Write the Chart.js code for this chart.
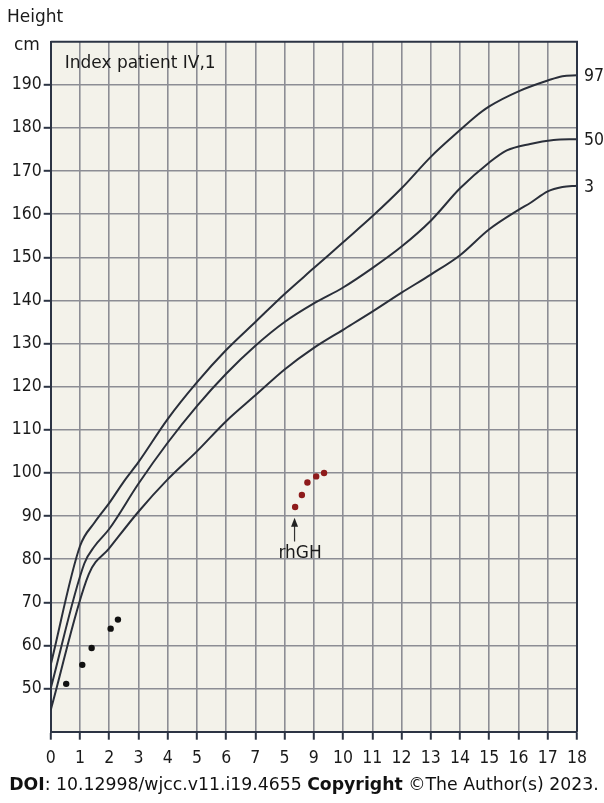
<!DOCTYPE html>
<html>
<head>
<meta charset="utf-8">
<script src="https://cdn.jsdelivr.net/npm/chart.js@4.4.1/dist/chart.umd.min.js"></script>
<style>
  html, body { margin: 0; padding: 0; background: #ffffff; }
  #wrap { position: relative; width: 604px; height: 803px; }
  #footer { position: absolute; left: 2px; width: 604px; top: 774px; text-align: center;
            font-family: 'DejaVu Sans', sans-serif; font-size: 17.3px; color: #111; white-space: nowrap; }
</style>
</head>
<body>
<div id="wrap">
  <canvas id="c"></canvas>
  <div id="footer"><b>DOI</b>: 10.12998/wjcc.v11.i19.4655 <b>Copyright</b> ©The Author(s) 2023.</div>
</div>
<script>
// ---- data ----
const xTickLabels = ['0','1','2','3','4','5','6','7','5','9','10','11','12','13','14','15','16','17','18'];
const yTickValues = [50,60,70,80,90,100,110,120,130,140,150,160,170,180,190];

const ages97 = [0, 1, 1.5, 2, 2.5, 3, 4, 5, 6, 7, 8, 9, 10, 11, 12, 13, 14, 14.5, 15, 16, 17, 17.5, 18];
const p97    = [55.5, 83, 88.5, 93, 98, 102.5, 112.5, 121, 128.5, 135, 141.5, 147.5, 153.5, 159.5, 166, 173.3, 179.5, 182.5, 185, 188.5, 191, 192, 192.2];

const ages50 = [0, 1.15, 1.5, 2, 3, 4, 5, 6, 7, 8, 9, 10, 11, 12, 13, 14, 15, 15.6, 16.4, 17.2, 18];
const p50    = [50, 79, 83, 87, 97.5, 107, 115.5, 123, 129.5, 135, 139.3, 143, 147.5, 152.5, 158.5, 166, 172, 174.8, 176.3, 177.2, 177.4];

const ages3  = [0, 1.3, 2, 3, 4, 5, 6, 7, 8, 9, 10, 11, 12, 13, 14, 15, 16, 16.4, 17, 17.5, 18];
const p3     = [45, 76.5, 82.5, 91, 98.5, 105, 112, 118, 124, 129, 133.2, 137.4, 141.8, 146, 150.5, 156.5, 161, 162.6, 165.3, 166.3, 166.6];

const curveLabels = ['97', '50', '3'];

const patientAges    = [0.53, 1.08, 1.40, 2.05, 2.30];
const patientHeights = [51.1, 55.5, 59.4, 63.9, 66.0];

const rhghAges    = [8.36, 8.59, 8.78, 9.08, 9.35];
const rhghHeights = [92.1, 94.9, 97.8, 99.2, 100.0];

const titleText = 'Index patient IV,1';
const arrowLabel = 'rhGH';
const arrowAge = 8.34, arrowTip = 89.6, arrowBase = 84.1, arrowTextAge = 8.53, arrowTextH = 81.2;

// ---- helpers ----
const pts = (xs, ys) => xs.map((x, i) => ({ x: x, y: ys[i] }));
const FONT = "'DejaVu Sans Condensed', 'DejaVu Sans', sans-serif";
const TFONT = "'DejaVu Sans', sans-serif";
const DARK = '#2c3444';
const GRID = '#8c8d94';
const LINE = '#2a2f3a';

const curveDs = (data) => ({
  type: 'line', data: data, borderColor: LINE, borderWidth: 2, pointRadius: 0,
  fill: false, cubicInterpolationMode: 'monotone', showLine: true
});

const decor = {
  id: 'decor',
  beforeDraw(chart) {
    const { ctx, chartArea: a } = chart;
    ctx.save();
    ctx.fillStyle = '#f3f2ea';
    ctx.fillRect(a.left, a.top, a.right - a.left, a.bottom - a.top);
    ctx.restore();
  },
  afterDraw(chart) {
    const { ctx, chartArea: a, scales: { x, y } } = chart;
    ctx.save();
    // frame top & right
    ctx.strokeStyle = DARK; ctx.lineWidth = 2;
    ctx.beginPath();
    ctx.moveTo(a.left, a.top); ctx.lineTo(a.right, a.top); ctx.lineTo(a.right, a.bottom);
    ctx.stroke();
    ctx.fillStyle = '#1a1a1a';
    ctx.font = '17px ' + TFONT;
    ctx.textBaseline = 'middle';
    // axis titles
    ctx.textAlign = 'left';
    ctx.fillText('Height', 7, 18);
    ctx.fillText('cm', 14, 46);
    // panel title
    ctx.fillText(titleText, a.left + 14, a.top + 22);
    // percentile labels
    ctx.font = '17.5px ' + FONT;
    const ends = [p97[p97.length - 1], p50[p50.length - 1], p3[p3.length - 1]];
    ends.forEach((v, i) => {
      ctx.fillText(curveLabels[i], a.right + 7, y.getPixelForValue(v) + 1.5);
    });
    // arrow
    const ax = x.getPixelForValue(arrowAge);
    const ty = y.getPixelForValue(arrowTip), by = y.getPixelForValue(arrowBase);
    ctx.strokeStyle = '#333'; ctx.lineWidth = 1.2;
    ctx.beginPath(); ctx.moveTo(ax, by); ctx.lineTo(ax, ty + 4); ctx.stroke();
    ctx.fillStyle = '#222';
    ctx.beginPath(); ctx.moveTo(ax, ty); ctx.lineTo(ax - 3.5, ty + 9); ctx.lineTo(ax + 3.5, ty + 9); ctx.closePath(); ctx.fill();
    ctx.fillStyle = '#1a1a1a';
    ctx.font = '17px ' + TFONT;
    ctx.textAlign = 'center';
    ctx.fillText(arrowLabel, x.getPixelForValue(arrowTextAge), y.getPixelForValue(arrowTextH));
    ctx.restore();
  }
};

new Chart(document.getElementById('c'), {
  type: 'scatter',
  data: {
    datasets: [
      curveDs(pts(ages97, p97)),
      curveDs(pts(ages50, p50)),
      curveDs(pts(ages3, p3)),
      { type: 'scatter', data: pts(patientAges, patientHeights), backgroundColor: '#111', borderColor: '#111', pointRadius: 3.2, borderWidth: 0 },
      { type: 'scatter', data: pts(rhghAges, rhghHeights), backgroundColor: '#8e1b1b', borderColor: '#8e1b1b', pointRadius: 3.2, borderWidth: 0 }
    ]
  },
  options: {
    responsive: true, maintainAspectRatio: false, animation: false,
    layout: { padding: { left: 0, right: 27, top: 41.7, bottom: 0 } },
    plugins: { legend: { display: false }, tooltip: { enabled: false } },
    scales: {
      x: {
        type: 'linear', min: 0, max: 18,
        afterFit: s => { s.height = 71.3; },
        afterBuildTicks: s => { s.ticks = xTickLabels.map((_, i) => ({ value: i })); },
        ticks: { autoSkip: false, maxRotation: 0, padding: 8, color: '#1a1a1a',
                 font: { family: FONT, size: 17.5 }, callback: (v, i) => xTickLabels[i] },
        grid: { color: c => (c.tick && c.tick.value === 18 ? 'rgba(0,0,0,0)' : GRID), lineWidth: 1.6,
                tickLength: 8, tickColor: DARK, tickWidth: 2 },
        border: { display: true, color: DARK, width: 2 }
      },
      y: {
        type: 'linear', min: 40, max: 200,
        afterFit: s => { s.width = 50.7; },
        afterBuildTicks: s => { s.ticks = [40].concat(yTickValues, [200]).map(v => ({ value: v })); },
        ticks: { autoSkip: false, padding: 2, color: '#1a1a1a', font: { family: FONT, size: 17.5 },
                 callback: v => (yTickValues.indexOf(v) >= 0 ? String(v) : '') },
        grid: { color: c => (c.tick && (c.tick.value === 200 || c.tick.value === 40) ? 'rgba(0,0,0,0)' : GRID), lineWidth: 1.6,
                tickLength: 7, tickWidth: 2,
                tickColor: c => (c.tick && yTickValues.indexOf(c.tick.value) >= 0 ? DARK : 'rgba(0,0,0,0)') },
        border: { display: true, color: DARK, width: 2 }
      }
    }
  },
  plugins: [decor]
});
</script>
</body>
</html>
